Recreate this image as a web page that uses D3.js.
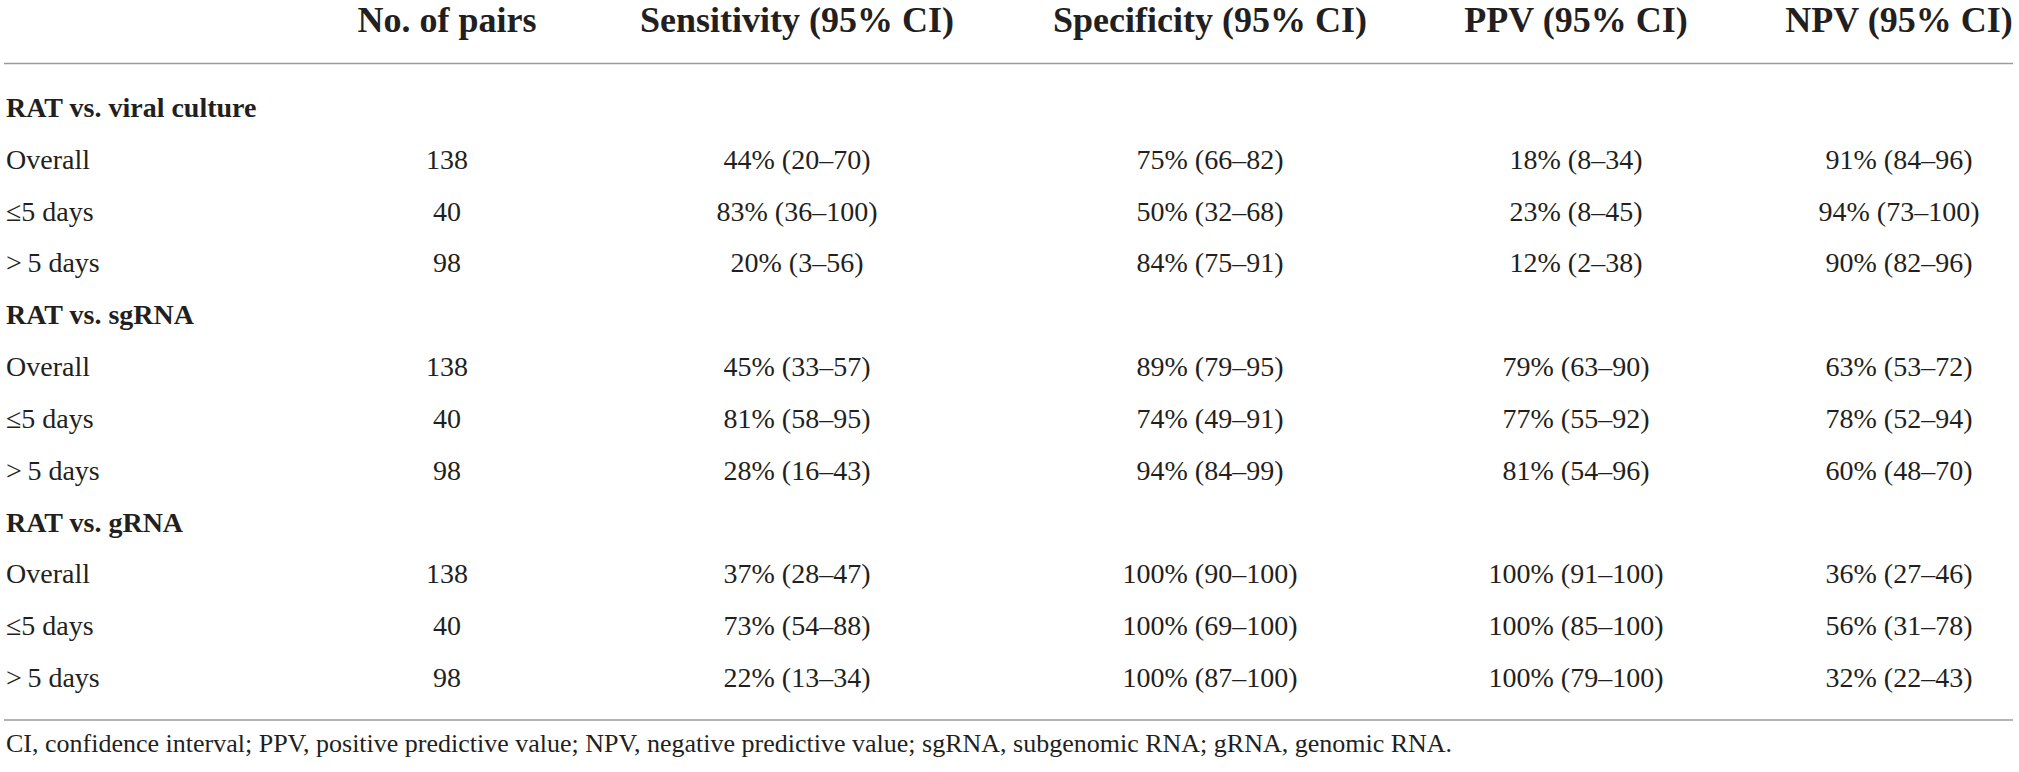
<!DOCTYPE html>
<html>
<head>
<meta charset="utf-8">
<script src="https://cdn.jsdelivr.net/npm/d3@7"></script>
<style>
  html, body { margin: 0; padding: 0; background: #fff; }
  svg text { font-family: "Liberation Serif", "Times New Roman", serif; fill: #231f20; }
</style>
</head>
<body>
<div id="chart-container"></div>
<script>
// table contents
const columns = ["No. of pairs", "Sensitivity (95% CI)", "Specificity (95% CI)", "PPV (95% CI)", "NPV (95% CI)"];
const groups = ["RAT vs. viral culture", "RAT vs. sgRNA", "RAT vs. gRNA"];
const subgroups = ["Overall", "\u22645 days", ">\u20095 days"];
const pairs = [138, 40, 98, 138, 40, 98, 138, 40, 98];
// [estimate, lower, upper]
const sensitivity = [[44, 20, 70], [83, 36, 100], [20, 3, 56], [45, 33, 57], [81, 58, 95], [28, 16, 43], [37, 28, 47], [73, 54, 88], [22, 13, 34]];
const specificity = [[75, 66, 82], [50, 32, 68], [84, 75, 91], [89, 79, 95], [74, 49, 91], [94, 84, 99], [100, 90, 100], [100, 69, 100], [100, 87, 100]];
const ppv = [[18, 8, 34], [23, 8, 45], [12, 2, 38], [79, 63, 90], [77, 55, 92], [81, 54, 96], [100, 91, 100], [100, 85, 100], [100, 79, 100]];
const npv = [[91, 84, 96], [94, 73, 100], [90, 82, 96], [63, 53, 72], [78, 52, 94], [60, 48, 70], [36, 27, 46], [56, 31, 78], [32, 22, 43]];
const footnote = "CI, confidence interval; PPV, positive predictive value; NPV, negative predictive value; sgRNA, subgenomic RNA; gRNA, genomic RNA.";

const width = 2019, height = 772;
const fmt = d => d[0] + "% (" + d[1] + "\u2013" + d[2] + ")";

const svg = d3.select("#chart-container")
    .append("svg")
    .attr("width", width)
    .attr("height", height);

// column centres
const x = d3.scaleOrdinal()
    .domain(columns)
    .range([447, 797, 1210, 1576, 1899]);

// one line per group heading and per data row
const y = d3.scaleLinear().domain([0, 11]).range([117, 687]);

const rows = [];
groups.forEach((g, gi) => {
    rows.push({ type: "group", label: g });
    subgroups.forEach((s, si) => {
        const k = gi * 3 + si;
        rows.push({
            type: "data",
            label: s,
            cells: [String(pairs[k]), fmt(sensitivity[k]), fmt(specificity[k]), fmt(ppv[k]), fmt(npv[k])]
        });
    });
});

// header
svg.append("g")
    .selectAll("text")
    .data(columns)
    .join("text")
    .attr("x", d => x(d))
    .attr("y", 32)
    .attr("text-anchor", "middle")
    .style("font-size", "36px")
    .style("font-weight", "bold")
    .text(d => d);

svg.append("line")
    .attr("x1", 4).attr("x2", 2013)
    .attr("y1", 63.5).attr("y2", 63.5)
    .style("stroke", "#9b9b9b")
    .style("stroke-width", 1.5);

const body = svg.append("g");
const rowG = body.selectAll("g")
    .data(rows)
    .join("g")
    .attr("transform", (d, i) => "translate(0," + y(i) + ")");

rowG.append("text")
    .attr("x", 6)
    .style("font-size", "28px")
    .style("font-weight", d => d.type === "group" ? "bold" : "normal")
    .text(d => d.label);

rowG.filter(d => d.type === "data")
    .selectAll("text.cell")
    .data(d => d.cells.map((c, j) => ({ col: columns[j], val: c })))
    .join("text")
    .attr("class", "cell")
    .attr("x", d => x(d.col))
    .attr("text-anchor", "middle")
    .style("font-size", "28px")
    .text(d => d.val);

svg.append("line")
    .attr("x1", 4).attr("x2", 2013)
    .attr("y1", 720).attr("y2", 720)
    .style("stroke", "#b5b5b5")
    .style("stroke-width", 2);

svg.append("text")
    .attr("x", 6)
    .attr("y", 752)
    .style("font-size", "26px")
    .text(footnote);
</script>
</body>
</html>
